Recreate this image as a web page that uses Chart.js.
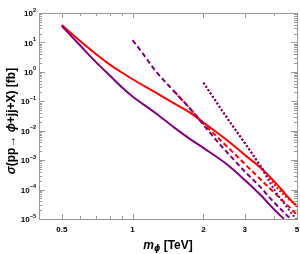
<!DOCTYPE html>
<html>
<head>
<meta charset="utf-8">
<script src="https://cdn.jsdelivr.net/npm/chart.js@4.4.1/dist/chart.umd.min.js"></script>
<style>
  body { margin: 0; background: #fff; }
  canvas { display: block; }
</style>
</head>
<body>
<canvas id="myChart" width="300" height="254"></canvas>
<script>
// masses in TeV, cross sections in fb
let massRedSolid = [0.5, 0.6, 0.7, 0.8, 0.9, 1, 1.25, 1.5, 1.75, 2, 2.5, 3, 3.5, 4, 4.5, 5];
let sigmaRedSolid = [39, 10.9, 3.94, 1.77, 0.95, 0.56, 0.2, 0.085, 0.042, 0.019, 5e-3, 1.5e-3, 5.5e-4, 1.9e-4, 6.5e-5, 2.6e-5];

let massPurpleSolid = [0.5, 0.6, 0.7, 0.8, 0.9, 1, 1.25, 1.5, 1.75, 2, 2.5, 3, 3.5, 4, 4.4];
let sigmaPurpleSolid = [36, 7.7, 2.1, 0.75, 0.30, 0.145, 0.04, 0.013, 5.3e-3, 2.6e-3, 7.5e-4, 2.1e-4, 6.5e-5, 2.1e-5, 1e-5];

let massPurpleDashed = [1, 1.1, 1.25, 1.5, 1.75, 2, 2.2, 2.5, 3, 3.5, 4, 4.5, 4.7];
let sigmaPurpleDashed = [12, 4.4, 1.1, 0.22, 0.058, 0.016, 6.3e-3, 2e-3, 4.1e-4, 1.2e-4, 3.6e-5, 1.4e-5, 1e-5];

let massRedDashed = [1.5, 1.75, 2, 2.25, 2.5, 3, 3.5, 4, 4.5, 5];
let sigmaRedDashed = [0.22, 0.058, 0.0175, 7e-3, 3.1e-3, 7.4e-4, 2.2e-4, 7.9e-5, 3.2e-5, 1.4e-5];

let massPurpleDotted = [2, 2.25, 2.5, 3, 3.5, 4, 4.5, 5];
let sigmaPurpleDotted = [0.43, 0.105, 0.030, 3.8e-3, 6e-4, 1e-4, 2.7e-5, 9e-6];

let massRedDotted = [2, 2.25, 2.5, 3, 3.5, 4, 4.5, 5];
let sigmaRedDotted = [0.43, 0.105, 0.030, 3.8e-3, 6.5e-4, 1.5e-4, 5.5e-5, 2.9e-5];

let xMajorTicks = [0.5, 1, 2, 3, 5];
let xTickLabels = ["0.5", "1", "2", "3", "5"];
let xMinorTicks = [0.6, 0.7, 0.8, 0.9, 4];
let yExponents = [-5, -4, -3, -2, -1, 0, 1, 2];

const RED = '#ff0000';
const PURPLE = '#800080';
const FRAME = '#999999';
const SANS = '"Liberation Sans", Arial, sans-serif';

function toPoints(xs, ys) {
    return xs.map((x, i) => ({x: x, y: ys[i]}));
}

function line(xs, ys, color, dash) {
    return {
        data: toPoints(xs, ys),
        borderColor: color,
        borderWidth: 2,
        borderDash: dash,
        pointRadius: 0,
        cubicInterpolationMode: 'monotone',
        fill: false
    };
}

let framePlugin = {
    id: 'frame',
    afterDraw(chart) {
        let ctx = chart.ctx;
        let a = chart.chartArea;
        let xs = chart.scales.x;
        let ys = chart.scales.y;
        ctx.save();
        ctx.strokeStyle = FRAME;
        ctx.lineWidth = 1;
        ctx.strokeRect(Math.round(a.left) + 0.5, Math.round(a.top) + 0.5,
            Math.round(a.right - a.left), Math.round(a.bottom - a.top));

        function vtick(v, len) {
            let px = Math.round(xs.getPixelForValue(v)) + 0.5;
            ctx.beginPath();
            ctx.moveTo(px, a.bottom); ctx.lineTo(px, a.bottom - len);
            ctx.moveTo(px, a.top); ctx.lineTo(px, a.top + len);
            ctx.stroke();
        }
        function htick(v, len) {
            let py = Math.round(ys.getPixelForValue(v)) + 0.5;
            ctx.beginPath();
            ctx.moveTo(a.left, py); ctx.lineTo(a.left + len, py);
            ctx.moveTo(a.right, py); ctx.lineTo(a.right - len, py);
            ctx.stroke();
        }
        xMajorTicks.forEach(v => vtick(v, 5));
        xMinorTicks.forEach(v => vtick(v, 3));
        yExponents.forEach(e => {
            htick(Math.pow(10, e), 6);
            if (e < 2) {
                for (let k = 2; k <= 9; k++) htick(k * Math.pow(10, e), 3);
            }
        });

        // tick labels
        ctx.fillStyle = '#000';
        ctx.textBaseline = 'middle';
        ctx.textAlign = 'center';
        ctx.font = 'bold 8px ' + SANS;
        xMajorTicks.forEach((v, i) => {
            ctx.fillText(xTickLabels[i], xs.getPixelForValue(v), a.bottom + 11);
        });
        yExponents.forEach(e => {
            let py = ys.getPixelForValue(Math.pow(10, e));
            let ex = String(e).replace('-', '\u2212');
            ctx.font = 'bold 5.5px ' + SANS;
            let ew = ctx.measureText(ex).width;
            ctx.textAlign = 'left';
            let ex0 = a.left - 3 - ew;
            ctx.fillText(ex, ex0, py - 3);
            ctx.font = 'bold 8px ' + SANS;
            ctx.textAlign = 'right';
            ctx.fillText('10', ex0, py + 1);
        });

        // x title: m_phi [TeV]
        let cx = (a.left + a.right) / 2;
        ctx.textAlign = 'left';
        ctx.font = 'italic bold 12px ' + SANS;
        let wm = ctx.measureText('m').width;
        ctx.font = 'italic bold 8px "DejaVu Sans", sans-serif';
        let wp = ctx.measureText('\u03D5').width;
        ctx.font = 'bold 12px ' + SANS;
        let wr = ctx.measureText(' [TeV]').width;
        let x0 = cx - (wm + wp + wr) / 2;
        let ty = 246;
        ctx.font = 'italic bold 12px ' + SANS;
        ctx.fillText('m', x0, ty);
        ctx.font = 'italic bold 8px "DejaVu Sans", sans-serif';
        ctx.fillText('\u03D5', x0 + wm, ty + 3);
        ctx.font = 'bold 12px ' + SANS;
        ctx.fillText(' [TeV]', x0 + wm + wp, ty);

        // y title
        ctx.translate(12, (a.top + a.bottom) / 2 + 5);
        ctx.rotate(-Math.PI / 2);
        let parts = [
            ['\u03C3', 'italic bold 12px ' + SANS],
            ['(pp\u2192 ', 'bold 12px ' + SANS],
            ['\u03D5', 'italic bold 12px ' + SANS],
            ['+jj+X) [fb]', 'bold 12px ' + SANS]
        ];
        let total = 0;
        parts.forEach(p => { ctx.font = p[1]; total += ctx.measureText(p[0]).width; });
        let px = -total / 2;
        parts.forEach(p => {
            ctx.font = p[1];
            ctx.fillText(p[0], px, 0);
            px += ctx.measureText(p[0]).width;
        });
        ctx.restore();
    }
};

let ctx = document.getElementById("myChart").getContext('2d');
let myChart = new Chart(ctx, {
    type: 'line',
    data: {
        datasets: [
            line(massPurpleDotted, sigmaPurpleDotted, PURPLE, [2, 2]),
            line(massPurpleDashed, sigmaPurpleDashed, PURPLE, [5, 3]),
            line(massPurpleSolid, sigmaPurpleSolid, PURPLE, []),
            line(massRedDotted, sigmaRedDotted, RED, [2, 2]),
            line(massRedDashed, sigmaRedDashed, RED, [5, 3]),
            line(massRedSolid, sigmaRedSolid, RED, [])
        ]
    },
    options: {
        responsive: false,
        animation: false,
        layout: { padding: { top: 13, right: 3, left: 0, bottom: 0 } },
        plugins: { legend: { display: false }, tooltip: { enabled: false } },
        scales: {
            x: {
                type: 'logarithmic',
                min: 0.4,
                max: 5,
                grid: { display: false },
                border: { display: false },
                ticks: { display: false },
                afterFit: s => { s.height = 35; }
            },
            y: {
                type: 'logarithmic',
                min: 1e-5,
                max: 100,
                grid: { display: false },
                border: { display: false },
                ticks: { display: false },
                afterFit: s => { s.width = 39; }
            }
        }
    },
    plugins: [framePlugin]
});
</script>
</body>
</html>
